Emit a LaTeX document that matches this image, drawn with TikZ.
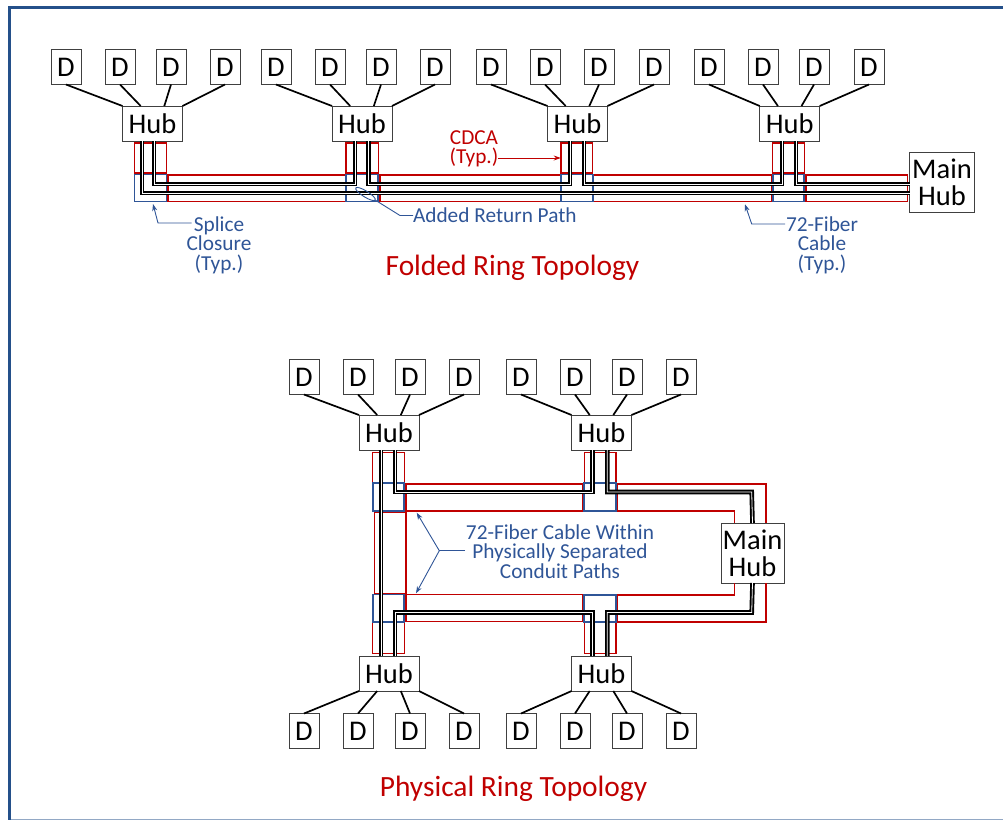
\documentclass[tikz,border=0pt]{standalone}
\usepackage{fontspec}
\setmainfont{Carlito}
\usepackage{tikz}
\usetikzlibrary{arrows.meta, positioning, shapes.geometric}

\definecolor{ringred}{HTML}{C00000}
\definecolor{ringblue}{HTML}{2F5597}
\definecolor{framing}{HTML}{24508A}

\begin{document}
\begin{tikzpicture}[x=1pt, y=-1pt, node distance=24pt,
    every node/.style={font=\fontsize{28.5}{28}\selectfont, inner sep=0pt, outer sep=0pt},
    dbox/.style={rectangle, draw=black!75, line width=1pt, fill=white, minimum width=30pt, minimum height=35pt},
    hubbox/.style={rectangle, draw=black!75, line width=1pt, fill=white, minimum width=60pt, minimum height=35pt},
    mainbox/.style={rectangle, draw=black!75, line width=1pt, fill=white, align=center, font=\fontsize{28.5}{27}\selectfont, minimum width=65pt, minimum height=60pt},
    drop/.style={black, line width=1.7pt},
    fiber/.style={black, line width=1.9pt, double=white, double distance=0.8pt},
    redrun/.style={draw=ringred, line width=1.5pt},
    bluerun/.style={draw=ringblue, line width=1.7pt},
    note/.style={text=ringblue, align=center, font=\fontsize{21.3}{19.5}\selectfont},
    notered/.style={text=ringred, align=center, font=\fontsize{21.3}{19.5}\selectfont},
    heading/.style={text=ringred, font=\fontsize{29.4}{29}\selectfont},
    leader/.style={draw=ringblue, line width=0.9pt},
    tip/.style={-{Stealth[length=7pt, width=5pt]}}]
    \useasboundingbox (0,0) rectangle (1003,820);
    % frame
    \draw[framing, line width=3.5pt] (1003,7.5) -- (9.5,7.5) -- (9.5,820);
    \draw[framing!50, line width=1pt] (11,819.5) -- (1003,819.5);

    % folded ring
    \node[hubbox] (hub1) at (152.5,123.5) {Hub};
    \node[hubbox] (hub2) at (362,123.5) {Hub};
    \node[hubbox] (hub3) at (577.5,123.5) {Hub};
    \node[hubbox] (hub4) at (789.7,123.5) {Hub};
    \node[mainbox] (main1) at (942,182) {Main\\Hub};

    \node[dbox] (d11) at (66,67) {D};
    \node[dbox, right=of d11] (d12) {D};
    \node[dbox, right=21pt of d12] (d13) {D};
    \node[dbox, right=of d13] (d14) {D};
    \node[dbox] (d21) at (276,67) {D};
    \node[dbox, right=of d21] (d22) {D};
    \node[dbox, right=21pt of d22] (d23) {D};
    \node[dbox, right=of d23] (d24) {D};
    \node[dbox] (d31) at (491,67) {D};
    \node[dbox, right=of d31] (d32) {D};
    \node[dbox, right=24pt of d32] (d33) {D};
    \node[dbox, right=25pt of d33] (d34) {D};
    \node[dbox] (d41) at (709,67) {D};
    \node[dbox, right=of d41] (d42) {D};
    \node[dbox, right=21pt of d42] (d43) {D};
    \node[dbox, right=25pt of d43] (d44) {D};

    \draw[drop] (d11.south) -- (hub1.north west);
    \draw[drop] (d12.south) -- (hub1.124);
    \draw[drop] (d13.south) -- (hub1.56);
    \draw[drop] (d14.south) -- (hub1.north east);
    \draw[drop] (d21.south) -- (hub2.north west);
    \draw[drop] (d22.south) -- (hub2.124);
    \draw[drop] (d23.south) -- (hub2.56);
    \draw[drop] (d24.south) -- (hub2.north east);
    \draw[drop] (d31.south) -- (hub3.north west);
    \draw[drop] (d32.south) -- (hub3.124);
    \draw[drop] (d33.south) -- (hub3.56);
    \draw[drop] (d34.south) -- (hub3.north east);
    \draw[drop] (d41.south) -- (hub4.north west);
    \draw[drop] (d42.south) -- (hub4.124);
    \draw[drop] (d43.south) -- (hub4.56);
    \draw[drop] (d44.south) -- (hub4.north east);

    % conduit outlines, folded ring
    \draw[redrun] (134.5,143) rectangle (166.5,173);
    \draw[redrun] (346,143) rectangle (378.3,173);
    \draw[redrun] (561,143) rectangle (592.7,173);
    \draw[redrun] (772.7,143) rectangle (804.3,173);
    \draw[redrun] (167.8,175) rectangle (345.5,201.3);
    \draw[redrun] (380,175) rectangle (560.3,201.3);
    \draw[redrun] (593.5,175) rectangle (771.7,201.3);
    \draw[redrun] (806,175) rectangle (907.7,201.3);
    \draw[bluerun] (134.5,174.5) rectangle (166.5,201.5);
    \draw[bluerun] (346,174.5) rectangle (378.3,201.5);
    \draw[bluerun] (561,174.5) rectangle (592.7,201.5);
    \draw[bluerun] (772.7,174.5) rectangle (804.3,201.5);

    \coordinate (upper) at (0,184);
    \draw[fiber] ([xshift=-10.5pt]hub1.south) |- ([yshift=-11pt]main1.west);
    \draw[fiber] ([xshift=1.5pt]hub1.south) |- (upper -| 355,0) -- ([xshift=-7pt]hub2.south);
    \draw[fiber] ([xshift=6.7pt]hub2.south) |- (upper -| 570,0) -- ([xshift=-7.5pt]hub3.south);
    \draw[fiber] ([xshift=6.5pt]hub3.south) |- (upper -| 782,0) -- ([xshift=-7.7pt]hub4.south);
    \draw[fiber] ([xshift=6.3pt]hub4.south) |- ([yshift=-2pt]main1.west);

    % physical ring
    \node[hubbox] (hub5) at (389,432.5) {Hub};
    \node[hubbox] (hub6) at (601.5,432.5) {Hub};
    \node[hubbox] (hub7) at (389,673.5) {Hub};
    \node[hubbox] (hub8) at (601.5,673.5) {Hub};
    \node[mainbox, minimum width=63pt] (main2) at (752.5,553) {Main\\Hub};

    \node[dbox] (d51) at (304,377) {D};
    \node[dbox, right=of d51] (d52) {D};
    \node[dbox, right=22pt of d52] (d53) {D};
    \node[dbox, right=of d53] (d54) {D};
    \node[dbox] (d61) at (521,377) {D};
    \node[dbox, right=of d61] (d62) {D};
    \node[dbox, right=22pt of d62] (d63) {D};
    \node[dbox, right=of d63] (d64) {D};
    \node[dbox] (d71) at (304,731) {D};
    \node[dbox, right=of d71] (d72) {D};
    \node[dbox, right=22pt of d72] (d73) {D};
    \node[dbox, right=of d73] (d74) {D};
    \node[dbox] (d81) at (521,731) {D};
    \node[dbox, right=of d81] (d82) {D};
    \node[dbox, right=22pt of d82] (d83) {D};
    \node[dbox, right=of d83] (d84) {D};

    \draw[drop] (d51.south) -- (hub5.north west);
    \draw[drop] (d52.south) -- (hub5.124);
    \draw[drop] (d53.south) -- (hub5.56);
    \draw[drop] (d54.south) -- (hub5.north east);
    \draw[drop] (d61.south) -- (hub6.north west);
    \draw[drop] (d62.south) -- (hub6.124);
    \draw[drop] (d63.south) -- (hub6.56);
    \draw[drop] (d64.south) -- (hub6.north east);
    \draw[drop] (d71.north) -- (hub7.south west);
    \draw[drop] (d72.north) -- (hub7.236);
    \draw[drop] (d73.north) -- (hub7.304);
    \draw[drop] (d74.north) -- (hub7.south east);
    \draw[drop] (d81.north) -- (hub8.south west);
    \draw[drop] (d82.north) -- (hub8.236);
    \draw[drop] (d83.north) -- (hub8.304);
    \draw[drop] (d84.north) -- (hub8.south east);

    % conduit outlines, physical ring
    \draw[redrun] (372.7,452.3) rectangle (404.3,482.3);
    \draw[redrun] (584.3,452.3) rectangle (616,482.3);
    \draw[redrun] (372.7,622.7) rectangle (404.3,653.3);
    \draw[redrun] (584.3,622.7) rectangle (616,653.3);
    \draw[redrun] (374.3,512.3) rectangle (406,594);
    \draw[redrun] (406,484) rectangle (583,511);
    \draw[redrun] (406,594.5) rectangle (583,621.7);
    \draw[redrun] (734.3,523) -- (734.3,511) -- (617.5,511) -- (617.5,484) -- (766,484) -- (766,523);
    \draw[redrun] (734.3,583) -- (734.3,595) -- (617.5,595) -- (617.5,622) -- (766,622) -- (766,583);
    \draw[bluerun] (372.7,483) rectangle (404.3,511);
    \draw[bluerun] (584.3,483) rectangle (616,511);
    \draw[bluerun] (372.7,594.5) rectangle (404.3,622.3);
    \draw[bluerun] (584.3,595) rectangle (616,622.3);

    \coordinate (top) at (0,492);
    \coordinate (bottom) at (0,612.5);
    \draw[fiber] ([xshift=-8pt]hub5.south) -- ([xshift=-8pt]hub7.north);
    \draw[fiber] ([xshift=6pt]hub5.south) |- (top -| 592.7,0) -- ([xshift=-8.8pt]hub6.south);
    \draw[fiber] ([xshift=5.8pt]hub6.south) |- (top -| 751.7,0) -- (main2.north);
    \draw[fiber] ([xshift=6pt]hub7.north) |- (bottom -| 592.7,0) -- ([xshift=-8.8pt]hub8.north);
    \draw[fiber] ([xshift=5.8pt]hub8.north) |- (bottom -| 751.7,0) -- (main2.south);

    % notes
    \node[note] (splice) at (219,245) {Splice\\Closure\\(Typ.)};
    \coordinate (splicetip) at (153,204);
    \draw[leader, tip] (191.7,223) -- (158,223) -- (splicetip);

    \node[draw=ringblue, line width=0.9pt, ellipse, rotate=-32, minimum width=23pt, minimum height=6pt] (loop) at (365.5,194) {};
    \node[note, anchor=west] (added) at (413,215.5) {Added Return Path};
    \draw[leader] (added.west) -- (400,215.5) -- (loop.east);

    \node[note] (cable) at (822,245) {72-Fiber\\Cable\\(Typ.)};
    \coordinate (cabletip) at (745,204.3);
    \draw[leader, tip] (785,224) -- (751.7,224) -- (cabletip);

    \node[notered] (cdca) at (474,149) {CDCA\\(Typ.)};
    \coordinate (cdcatip) at (560.7,158);
    \draw[draw=ringred, line width=0.9pt, tip] (498,158) -- (cdcatip);

    \node[note] (within) at (560,551.5) {72-Fiber Cable Within\\Physically Separated\\Conduit Paths};
    \coordinate (fork) at (439.3,550.7);
    \coordinate (forkup) at (416.7,512.7);
    \coordinate (forkdown) at (416,593.3);
    \draw[leader] (465,550.7) -- (fork);
    \draw[leader, tip] (fork) -- (forkup);
    \draw[leader, tip] (fork) -- (forkdown);

    \node[heading] (folded) at (512.5,268) {Folded Ring Topology};
    \node[heading] (physical) at (513.5,789) {Physical Ring Topology};
\end{tikzpicture}
\end{document}
